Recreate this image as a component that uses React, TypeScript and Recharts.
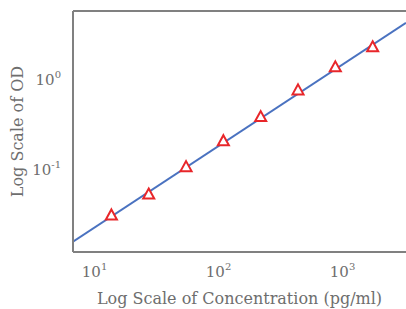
import React from "react";
import { ComposedChart, Line, Scatter, XAxis, YAxis, ReferenceLine, Label } from "recharts";

// Standard points (concentration pg/ml, OD)
const concentrations = [13.67, 27.34, 54.69, 109.4, 218.8, 437.5, 875, 1750];
const odValues = [0.0308, 0.0527, 0.106, 0.206, 0.381, 0.755, 1.36, 2.27];

// Fitted line end points
const fitConcentrations = [6.7, 3250];
const fitOd = [0.016, 4.33];

const xTicks = [10, 100, 1000];
const yTicks = [0.1, 1];
const xDomain = [6.7, 3250];
const yDomain = [0.0123, 5.85];

const xLabel = "Log Scale of Concentration (pg/ml)";
const yLabel = "Log Scale of OD";

const points = concentrations.map((c, i) => ({ x: c, y: odValues[i] }));
const fitData = fitConcentrations.map((c, i) => ({ x: c, y: fitOd[i] }));

const FONT = "'DejaVu Serif', serif";
const TEXT = "#6e6e6e";
const AXIS = "#808080";

const PowerTick = (props: any) => {
  const { x, y, payload, anchor } = props;
  const exp = Math.round(Math.log10(payload.value));
  return (
    <text x={x} y={y} textAnchor={anchor} fill={TEXT} fontFamily={FONT} fontSize={15} dominantBaseline="central">
      <tspan>10</tspan>
      <tspan fontSize={10} dy={-6}>{String(exp).replace("-", "-")}</tspan>
    </text>
  );
};

const Triangle = (props: any) => {
  const { cx, cy } = props;
  if (cx == null || cy == null) return null;
  const h = 10;
  const w = 11;
  const d = `M${cx},${cy - (2 * h) / 3} L${cx + w / 2},${cy + h / 3} L${cx - w / 2},${cy + h / 3} Z`;
  return <path d={d} fill="#ffffff" stroke="#e8262a" strokeWidth={2} />;
};

export default function App() {
  return (
    <div style={{ position: "absolute", left: 0, top: 0, width: 406, height: 309, background: "#fff" }}>
      <ComposedChart width={406} height={309} margin={{ top: 11, right: 0, bottom: 0, left: 0 }}>
        <XAxis
          dataKey="x"
          type="number"
          scale="log"
          domain={xDomain}
          ticks={xTicks}
          allowDataOverflow
          height={57}
          axisLine={{ stroke: AXIS, strokeWidth: 2 }}
          tickLine={false}
          tickMargin={14}
          tick={<PowerTick anchor="middle" />}
        >
          <Label
            content={(p: any) => {
              const vb = p.viewBox;
              return (
                <text x={vb.x + vb.width / 2} y={vb.y + 52} textAnchor="middle" fill={TEXT} fontFamily={FONT} fontSize={16}>
                  {xLabel}
                </text>
              );
            }}
          />
        </XAxis>
        <YAxis
          dataKey="y"
          type="number"
          scale="log"
          domain={yDomain}
          ticks={yTicks}
          allowDataOverflow
          width={73}
          axisLine={{ stroke: AXIS, strokeWidth: 2 }}
          tickLine={false}
          tickMargin={6}
          tick={<PowerTick anchor="end" />}
        >
          <Label
            content={(p: any) => {
              const vb = p.viewBox;
              const cx = vb.x + 17;
              const cy = vb.y + vb.height / 2;
              return (
                <text x={cx} y={cy} textAnchor="middle" dominantBaseline="central" transform={`rotate(-90, ${cx}, ${cy})`} fill={TEXT} fontFamily={FONT} fontSize={16}>
                  {yLabel}
                </text>
              );
            }}
          />
        </YAxis>
        <ReferenceLine y={yDomain[1]} stroke={AXIS} strokeWidth={2} ifOverflow="extendDomain" />
        <Line
          data={fitData}
          dataKey="y"
          stroke="#4a72c0"
          strokeWidth={2}
          dot={false}
          activeDot={false}
          isAnimationActive={false}
          type="linear"
        />
        <Scatter data={points} dataKey="y" shape={<Triangle />} isAnimationActive={false} />
      </ComposedChart>
    </div>
  );
}
